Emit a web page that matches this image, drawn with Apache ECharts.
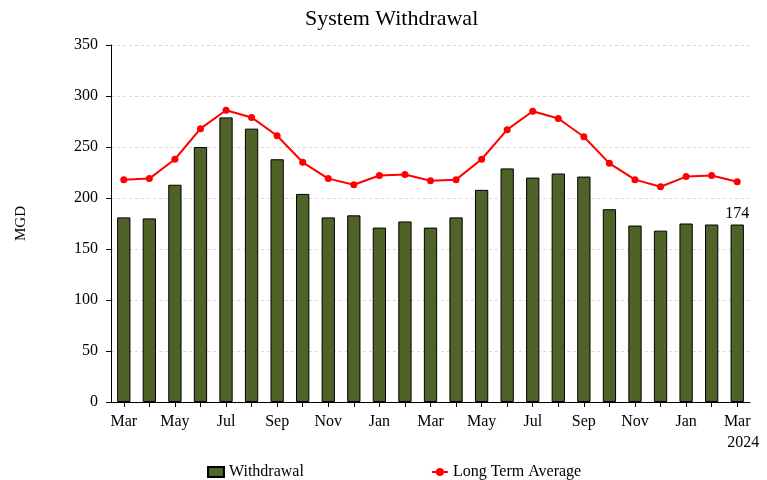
<!DOCTYPE html>
<html>
<head>
<meta charset="utf-8">
<script src="https://cdn.jsdelivr.net/npm/echarts@6/dist/echarts.min.js"></script>
<style>html,body{margin:0;padding:0;background:#fff}#c{width:767px;height:480px}</style>
</head>
<body>
<div id="c"></div>
<script>
const categories = ['Mar 2022','Apr 2022','May 2022','Jun 2022','Jul 2022','Aug 2022','Sep 2022','Oct 2022','Nov 2022','Dec 2022',
  'Jan 2023','Feb 2023','Mar 2023','Apr 2023','May 2023','Jun 2023','Jul 2023','Aug 2023','Sep 2023','Oct 2023','Nov 2023','Dec 2023',
  'Jan 2024','Feb 2024','Mar 2024'];
const withdrawal = [181,180,213,250,279,268,238,204,181,183,171,177,171,181,208,229,220,224,221,189,173,168,175,174,174];
const longTermAverage = [218,219,238,268,286,279,261,235,219,213,222,223,217,218,238,267,285,278,260,234,218,211,221,222,216];
const yTicks = [0,50,100,150,200,250,300,350];
const FONT = 'Liberation Serif';

const chart = echarts.init(document.getElementById('c'));
chart.setOption({
  animation:false,
  textStyle:{fontFamily:FONT,color:'#000'},
  title:{text:'System Withdrawal',left:300,top:3,textStyle:{fontFamily:FONT,fontSize:22,fontWeight:'normal',color:'#000'}},
  grid:{left:111,right:17,top:45,bottom:78},
  legend:{top:459,left:202,itemGap:127,itemWidth:16,itemHeight:10,
    textStyle:{fontFamily:FONT,fontSize:16,color:'#000'},
    data:[{name:'Withdrawal',icon:'rect'},{name:'Long Term Average'}]},
  xAxis:{type:'category',data:categories,boundaryGap:true,
    axisLine:{lineStyle:{color:'#000',width:1}},
    axisTick:{show:true,alignWithLabel:true,interval:0,length:5,lineStyle:{color:'#000'}},
    axisLabel:{interval:1,color:'#000',fontFamily:FONT,fontSize:16,margin:9,lineHeight:21,
      formatter:function(v,i){const m=v.split(' ')[0]; return i===categories.length-1?m+'\n{yr|'+v.split(' ')[1]+'}':m;},
      rich:{yr:{fontFamily:FONT,fontSize:16,color:'#000',padding:[0,0,0,12],lineHeight:21}}}},
  yAxis:{type:'value',min:yTicks[0],max:yTicks[yTicks.length-1],interval:50,
    name:'MGD',nameLocation:'middle',nameGap:82,nameRotate:90,
    nameTextStyle:{fontFamily:FONT,fontSize:15,color:'#000'},
    axisLine:{show:true,lineStyle:{color:'#000'}},
    axisTick:{show:true,length:5,lineStyle:{color:'#000'}},
    axisLabel:{color:'#000',fontFamily:FONT,fontSize:16,margin:13},
    splitLine:{show:true,lineStyle:{color:'#d9d9d9',type:[3,3]}}},
  series:[
    {name:'Withdrawal',type:'bar',data:withdrawal,barWidth:'52%',
      itemStyle:{color:'#4F6228',borderColor:'#000',borderWidth:1},
      label:{show:true,position:'top',distance:3,fontFamily:FONT,fontSize:16,color:'#000',
        formatter:function(p){return p.dataIndex===withdrawal.length-1?String(p.value):'';}}},
    {name:'Long Term Average',type:'line',data:longTermAverage,symbol:'circle',symbolSize:7,
      lineStyle:{color:'#ff0000',width:2},itemStyle:{color:'#ff0000'}}
  ]
});
</script>
</body>
</html>
